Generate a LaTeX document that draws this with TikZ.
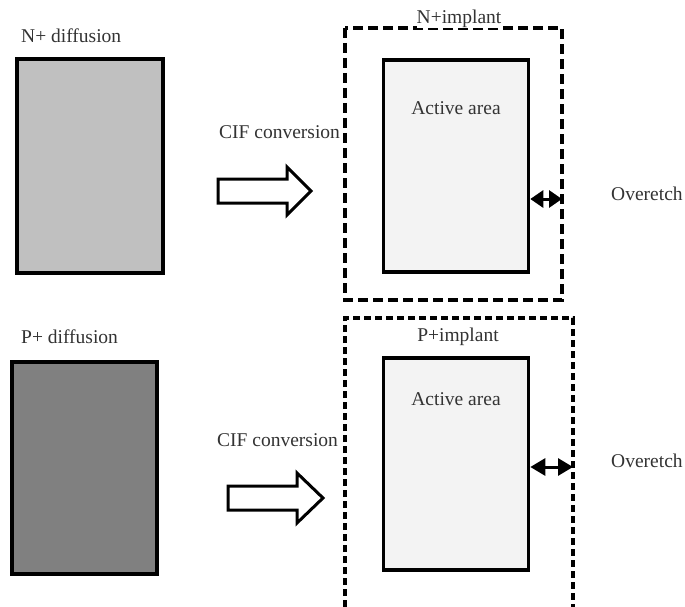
\documentclass[tikz,border=0pt]{standalone}
\usepackage{fontspec}
\setmainfont{Liberation Serif}
\usetikzlibrary{arrows.meta}
\definecolor{ndiff}{HTML}{C0C0C0}
\definecolor{pdiff}{HTML}{808080}
\definecolor{activefill}{HTML}{F3F3F3}
\definecolor{labelgray}{HTML}{333333}
\tikzset{
  lbl/.style={font=\fontsize{19.5}{22}\selectfont, text=labelgray, inner sep=1pt},
  diffbox/.style={draw=black, line width=3.4pt, inner sep=0pt},
  activebox/.style={draw=black, line width=3.6pt, fill=activefill, inner sep=0pt,
    minimum width=145pt, minimum height=212pt},
  implantbox/.style={draw=black, line width=3.2pt, dash pattern=on 10pt off 5pt},
  blockarrow/.style={draw=black, line width=3pt, fill=white, line join=miter},
  etch/.style={line width=3pt},
  etchtip/.style={{Triangle[length=#1,width=17pt]}-{Triangle[length=#1,width=17pt]}}
}
\begin{document}
\begin{tikzpicture}[x=1pt, y=-1pt]
  \useasboundingbox (0,0) rectangle (685,607);
  \fill[white] (0,0) rectangle (685,607);

  % ---- N+ diffusion row ----
  \node[lbl, anchor=west] (ntitle) at (20,36) {N+ diffusion};
  \node[diffbox, fill=ndiff, minimum width=146pt, minimum height=214pt] (ndiff) at (90,166) {};

  \node[lbl, anchor=west] (cif1) at (218,132) {CIF conversion};
  \draw[blockarrow] (218,179) -- (287,179) -- (287,167) -- (311,191) -- (287,215)
      -- (287,203) -- (218,203) -- cycle;

  \draw[implantbox] (345,28) rectangle (562,300);
  \node[lbl, fill=white, inner sep=0pt] (nimp) at (459,19) {N+implant};
  \node[activebox] (nact) at (456,166) {};
  \node[lbl] (nactlbl) at (456,108) {Active area};
  \coordinate (nedge) at (562,199);
  \draw[etch, etchtip=13pt] (nact.east |- nedge) -- (nedge);
  \node[lbl, anchor=west] (over1) at (610,194) {Overetch};

  % ---- P+ diffusion row ----
  \node[lbl, anchor=west] (ptitle) at (20,337) {P+ diffusion};
  \node[diffbox, fill=pdiff, minimum width=145pt, minimum height=212pt] (pdiff) at (84.5,468) {};

  \draw[implantbox, dash pattern=on 7pt off 4pt] (345,640) -- (345,318) -- (573,318) -- (573,640);
  \node[lbl, fill=white, anchor=west, inner sep=3pt] (cif2) at (214,440) {CIF conversion};
  \draw[blockarrow] (228,486) -- (297,486) -- (297,473) -- (323,498) -- (297,523)
      -- (297,510) -- (228,510) -- cycle;

  \node[lbl] (pimp) at (458,337) {P+implant};
  \node[activebox] (pact) at (456,464) {};
  \node[lbl] (pactlbl) at (456,399) {Active area};
  \coordinate (pedge) at (573,467);
  \draw[etch, etchtip=15pt] (pact.east |- pedge) -- (pedge);
  \node[lbl, anchor=west] (over2) at (610,461) {Overetch};
\end{tikzpicture}
\end{document}
